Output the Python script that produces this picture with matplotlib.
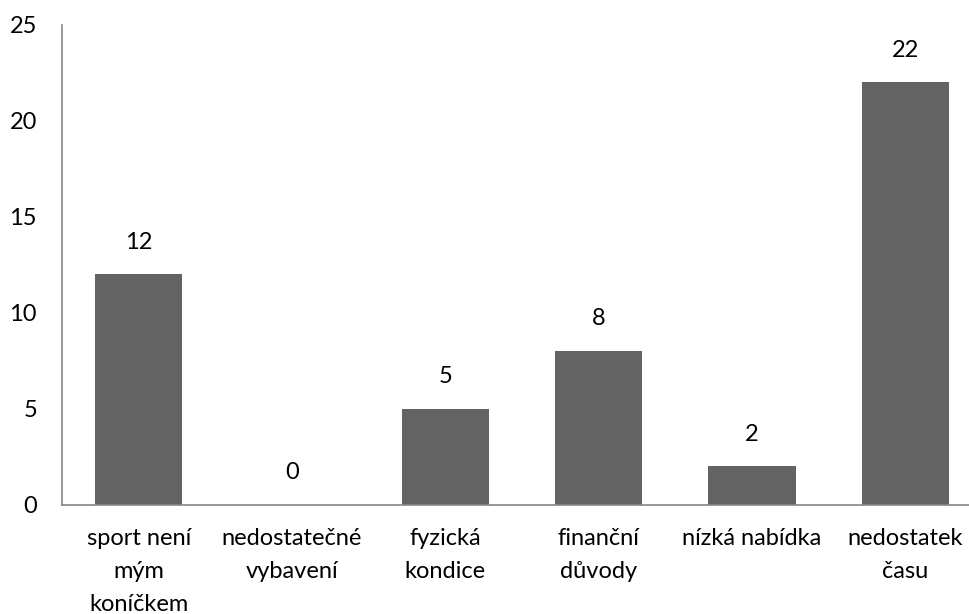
import matplotlib
matplotlib.use("Agg")
import matplotlib.pyplot as plt

categories = ["sport není\nmým\nkoníčkem", "nedostatečné\nvybavení", "fyzická\nkondice",
              "finanční\ndůvody", "nízká nabídka", "nedostatek\nčasu"]
values = [12, 0, 5, 8, 2, 22]
yticks = [0, 5, 10, 15, 20, 25]

plt.rcParams['font.family'] = ['Lato', 'DejaVu Sans']
fs = 17
fig = plt.figure(figsize=(9.70, 6.14), dpi=100)
ax = fig.add_axes([62/970, (614-504.5)/614, 920/970, 480/614])

x = range(len(categories))
ax.bar(x, values, width=0.57, color="#636363", zorder=2)
for xi, v in zip(x, values):
    ax.annotate(str(v), (xi, v), xytext=(0, 23), textcoords="offset points",
                ha="center", va="center", fontsize=fs, color="black")

ax.set_xlim(-0.5, 5.5)
ax.set_ylim(0, 25)
ax.set_yticks(yticks)
ax.set_yticklabels([str(t) for t in yticks], fontsize=fs)
ax.set_xticks(list(x))
ax.set_xticklabels(categories, fontsize=fs, linespacing=1.7)
ax.tick_params(axis="y", length=0, pad=18)
ax.tick_params(axis="x", length=0, pad=17)
for s in ["top", "right"]:
    ax.spines[s].set_visible(False)
for s in ["left", "bottom"]:
    ax.spines[s].set_color("#868686")
    ax.spines[s].set_linewidth(1.2)

fig.savefig("out.png", dpi=100)
